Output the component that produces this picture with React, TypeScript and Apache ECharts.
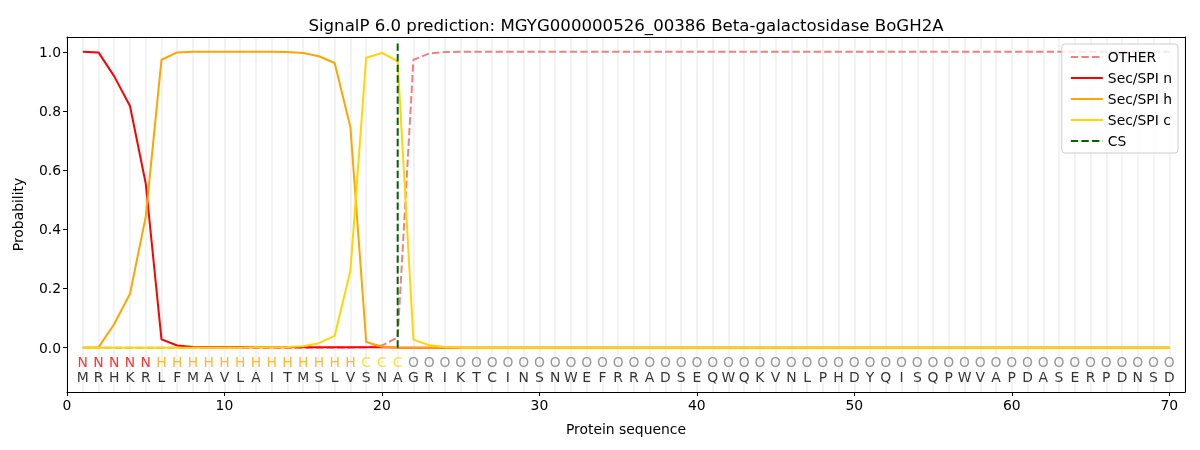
import React, { useEffect, useRef } from "react";
import * as echarts from "echarts";

const residues = "MRHKRLFMAVLAITMSLVSNAGRIKTCINSNWEFRRADSEQWQKVNLPHDYQISQPWVAPDASERPDNSD".split("");
const regionLabels = "NNNNNHHHHHHHHHHHHHCCCOOOOOOOOOOOOOOOOOOOOOOOOOOOOOOOOOOOOOOOOOOOOOOOOO".split("");

const secN = [1.0, 0.998, 0.917, 0.817, 0.555, 0.028, 0.007, 0.002, 0.001, 0.001, 0.001, 0.001, 0.001, 0.001, 0.001, 0.001, 0.001, 0.001, 0.001, 0.001];
const secH = [0.0, 0.001, 0.08, 0.182, 0.442, 0.973, 0.998, 1.0, 1.0, 1.0, 1.0, 1.0, 1.0, 0.999, 0.996, 0.985, 0.962, 0.744, 0.019, 0.003, 0.0];
const secC = [0.0, 0.0, 0.0, 0.0, 0.0, 0.0, 0.0, 0.0, 0.0, 0.0, 0.0, 0.001, 0.001, 0.002, 0.005, 0.015, 0.04, 0.26, 0.98, 0.996, 0.968, 0.027, 0.008, 0.002];
const other = [0.0, 0.0, 0.0, 0.0, 0.0, 0.0, 0.0, 0.0, 0.0, 0.0, 0.0, 0.0, 0.0, 0.0, 0.0, 0.0, 0.0, 0.0, 0.001, 0.007, 0.035, 0.973, 0.994, 0.999];
const csPosition = 21;
const csTop = 1.035;
const xTicks = [0, 10, 20, 30, 40, 50, 60, 70];
const yTicks = [0, 0.2, 0.4, 0.6, 0.8, 1.0];

const N = residues.length;
const pad = (arr: number[], fill: number) => {
  const out: number[] = [];
  for (let i = 0; i < N; i++) out.push(i < arr.length ? arr[i] : fill);
  return out;
};
const toPoints = (arr: number[]) => arr.map((v, i) => [i + 1, v]);

const regionColor: Record<string, string> = { N: "#ff0000", H: "#ffa500", C: "#ffd700", O: "#808080" };

export default function App() {
  const ref = useRef<HTMLDivElement>(null);
  useEffect(() => {
    const chart = echarts.init(ref.current!, null, { renderer: "svg" });
    const font = "DejaVu Sans";
    const fs = 13.9;
    const dash = [7.4, 3.2];
    const lineSeries = (name: string, data: number[], color: string, dashed: boolean) => ({
      name,
      type: "line",
      data: toPoints(data),
      symbol: "none",
      showSymbol: false,
      lineStyle: { color, width: 2, type: dashed ? dash : "solid" },
      itemStyle: { color },
      xAxisIndex: 0,
      yAxisIndex: 0,
      z: 3,
    });
    const blackLine = { show: true, onZero: false, lineStyle: { color: "#000", width: 1 } };
    chart.setOption({
      animation: false,
      textStyle: { fontFamily: font },
      title: {
        text: "SignalP 6.0 prediction: MGYG000000526_00386 Beta-galactosidase BoGH2A",
        left: 621,
        textAlign: "center",
        top: 12,
        textStyle: { fontFamily: font, fontSize: 16.6, fontWeight: "normal", color: "#000" },
      },
      grid: { left: 67, right: 15, top: 37, bottom: 58 },
      legend: {
        right: 22,
        top: 44,
        orient: "vertical",
        itemGap: 7,
        itemWidth: 32,
        itemHeight: 13,
        padding: [6, 6, 5, 8],
        borderColor: "#cccccc",
        borderWidth: 1,
        borderRadius: 3,
        backgroundColor: "rgba(255,255,255,0.8)",
        itemStyle: { color: "transparent", borderWidth: 0, opacity: 0 },
        textStyle: { fontFamily: font, fontSize: fs, color: "#000" },
        data: ["OTHER", "Sec/SPI n", "Sec/SPI h", "Sec/SPI c", "CS"],
      },
      xAxis: [
        {
          type: "value",
          min: 0,
          max: 71,
          position: "bottom",
          name: "Protein sequence",
          nameLocation: "middle",
          nameGap: 30,
          nameTextStyle: { fontFamily: font, fontSize: fs, color: "#000" },
          axisLine: blackLine,
          axisTick: { show: true, customValues: xTicks, length: 4, lineStyle: { color: "#000" } },
          axisLabel: { customValues: xTicks, fontFamily: font, fontSize: fs, color: "#000", margin: 6 },
          splitLine: { show: false },
          z: 2,
        },
        {
          type: "value",
          min: 0,
          max: 71,
          interval: 1,
          position: "top",
          axisLine: blackLine,
          axisTick: { show: false },
          axisLabel: { show: false },
          splitLine: { show: true, lineStyle: { color: "#efefef", width: 1.5 } },
          z: 1,
        },
      ],
      yAxis: [
        {
          type: "value",
          min: -0.15,
          max: 1.05,
          position: "left",
          name: "Probability",
          nameLocation: "middle",
          nameGap: 42,
          nameTextStyle: { fontFamily: font, fontSize: fs, color: "#000" },
          axisLine: blackLine,
          axisTick: { show: true, customValues: yTicks, length: 4, lineStyle: { color: "#000" } },
          axisLabel: { customValues: yTicks, formatter: (v: number) => v.toFixed(1), fontFamily: font, fontSize: fs, color: "#000", margin: 6 },
          splitLine: { show: false },
          z: 2,
        },
        {
          type: "value",
          min: -0.15,
          max: 1.05,
          position: "right",
          axisLine: blackLine,
          axisTick: { show: false },
          axisLabel: { show: false },
          splitLine: { show: false },
          z: 2,
        },
      ],
      series: [
        lineSeries("OTHER", pad(other, 1.0), "#f08080", true),
        lineSeries("Sec/SPI n", pad(secN, 0.0), "#ff0000", false),
        lineSeries("Sec/SPI h", pad(secH, 0.0), "#ffa500", false),
        lineSeries("Sec/SPI c", pad(secC, 0.0), "#ffd700", false),
        {
          name: "CS",
          type: "line",
          data: [[csPosition, 0], [csPosition, csTop]],
          symbol: "none",
          lineStyle: { color: "#006400", width: 2, type: dash },
          itemStyle: { color: "#006400" },
          z: 4,
        },
        {
          type: "scatter",
          symbolSize: 0,
          silent: true,
          data: regionLabels.map((l, i) => ({
            value: [i + 1, -0.047, l],
            label: { color: regionColor[l] },
          })),
          label: {
            show: true,
            position: "inside",
            formatter: (p: any) => p.value[2],
            fontFamily: font,
            fontSize: fs,
          },
          z: 5,
        },
        {
          type: "scatter",
          symbolSize: 0,
          silent: true,
          data: residues.map((r, i) => [i + 1, -0.1, r]),
          label: {
            show: true,
            position: "inside",
            formatter: (p: any) => p.value[2],
            fontFamily: font,
            fontSize: fs,
            color: "#000",
          },
          z: 5,
        },
      ],
    });
    return () => chart.dispose();
  }, []);
  return <div ref={ref} style={{ position: "fixed", left: 0, top: 0, width: 1200, height: 450 }} />;
}
